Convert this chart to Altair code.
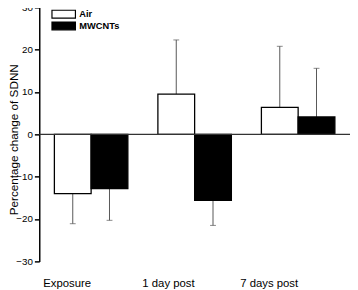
import altair as alt
import pandas as pd

categories = ["Exposure", "1 day post", "7 days post"]
groups = ["Air", "MWCNTs"]
air_mean = [-14.0, 9.5, 6.4]
air_sd = [7.1, 12.8, 14.4]
mw_mean = [-12.8, -15.6, 4.1]
mw_sd = [7.5, 5.9, 11.5]

rows = []
for i, c in enumerate(categories):
    for g, m, s in (("Air", air_mean[i], air_sd[i]), ("MWCNTs", mw_mean[i], mw_sd[i])):
        end = m + s if m >= 0 else m - s
        rows.append({"cat": c, "group": g, "mean": m, "end": end})
df = pd.DataFrame(rows)

font = "Liberation Sans"
yscale = alt.Scale(domain=[-30, 30], range=[256, -4], nice=False, zero=False)
xenc = alt.X("cat:N", sort=categories,
             scale=alt.Scale(paddingInner=0.29, paddingOuter=0.146),
             axis=alt.Axis(title=None, domain=False, ticks=False, labelAngle=0,
                           labelFontSize=11.6, labelFont=font, labelColor="black",
                           labelPadding=23))
xoff = alt.XOffset("group:N", sort=groups, scale=alt.Scale(paddingInner=0, paddingOuter=0))

base = alt.Chart(df)

bars = base.mark_bar(stroke="black", strokeWidth=1.3).encode(
    x=xenc,
    xOffset=xoff,
    y=alt.Y("mean:Q", scale=yscale,
            axis=alt.Axis(title="Percentage change of SDNN", values=[-30, -20, -10, 0, 10, 20, 30],
                          grid=False, domainColor="black", domainWidth=1.5, tickColor="black",
                          tickWidth=1.5, tickSize=5, labelFontSize=10, labelFont=font,
                          labelColor="black", labelPadding=2, titleFont=font,
                          titleFontSize=12, titleFontWeight="normal", titleColor="black",
                          titleX=-22.5, titleY=131, titleAngle=270, titleAlign="center",
                          titleBaseline="alphabetic")),
    fill=alt.Fill("group:N", sort=groups,
                  scale=alt.Scale(domain=groups, range=["white", "black"]),
                  legend=alt.Legend(title=None, orient="none", legendX=20, legendY=-2,
                                    symbolType="M-3,-1H3V1H-3Z", symbolSize=64,
                                    symbolStrokeColor="black", symbolStrokeWidth=1.2,
                                    labelFont=font, labelFontSize=9.5, labelFontWeight="bold",
                                    labelColor="black", labelOffset=11, rowPadding=-2.5,
                                    padding=0)),
)

err = base.mark_rule(color="#555555", strokeWidth=1).encode(
    x=alt.X("cat:N", sort=categories), xOffset=xoff,
    y=alt.Y("mean:Q", scale=yscale), y2="end:Q",
)
caps = base.mark_tick(color="#555555", thickness=1, size=6).encode(
    x=alt.X("cat:N", sort=categories), xOffset=xoff,
    y=alt.Y("end:Q", scale=yscale),
)
zero = alt.Chart(pd.DataFrame({"z": [0]})).mark_rule(color="#333333", strokeWidth=1.5).encode(
    y=alt.Y("z:Q", scale=yscale)
)

chart = alt.layer(err, caps, bars, zero).properties(
    width=318, height=256,
    autosize=alt.AutoSizeParams(type="none"),
    padding={"left": 32, "top": 0, "right": 0, "bottom": 28},
).configure_view(stroke=None)

chart.save("out.html", embed_options={"renderer": "svg", "actions": False})
